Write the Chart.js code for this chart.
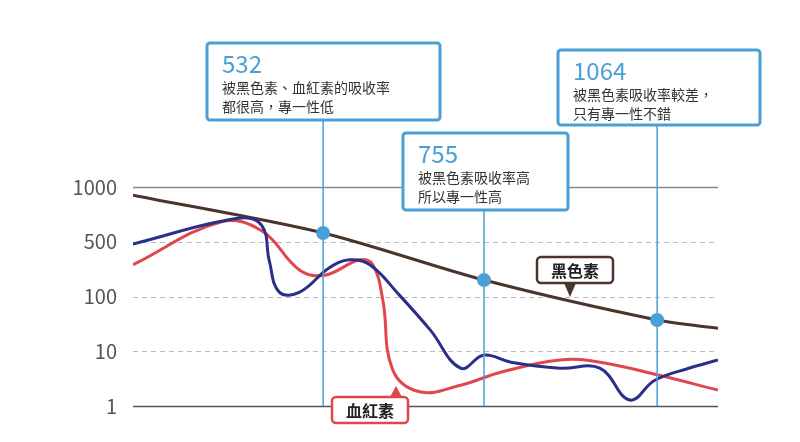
<!DOCTYPE html>
<html><head><meta charset="utf-8">
<script src="https://cdn.jsdelivr.net/npm/chart.js@4"></script>
<style>body{margin:0;background:#fff}#c{width:800px;height:442px}</style>
</head><body><div id="c"><canvas id="cv"></canvas></div>
<script>
// y levels 0..4 shown as these absorption labels
const yTickLabels = ['1', '10', '100', '500', '1000'];
// x is position along the wavelength axis (0..100)
const melaninX = [0, 32.5, 60, 89.6, 100];
const melaninY = [3.85, 3.16, 2.3, 1.57, 1.42];
const blueX = [0, 18, 22, 23.3, 25, 28.5, 33.5, 37, 40.5, 45.5, 50.8, 56, 60, 64.6, 73, 79.8, 84.9, 89.2, 95, 100];
const blueY = [2.96, 3.43, 3.3, 2.65, 2.08, 2.08, 2.52, 2.67, 2.58, 2.03, 1.39, 0.69, 0.93, 0.8, 0.69, 0.69, 0.11, 0.47, 0.69, 0.84];
const redX = [0, 15, 22, 28.5, 32.8, 38.8, 41, 42.7, 44.4, 49, 56, 63, 73, 79.8, 89.6, 100];
const redY = [2.58, 3.36, 3.2, 2.48, 2.39, 2.67, 2.58, 1.94, 0.66, 0.26, 0.38, 0.62, 0.84, 0.8, 0.57, 0.29];
const markerX = [32.5, 60, 89.6];
const markerTitles = ['532', '755', '1064'];
const markerTexts = [['被黑色素、血紅素的吸收率', '都很高，專一性低'], ['被黑色素吸收率高', '所以專一性高'], ['被黑色素吸收率較差，', '只有專一性不錯']];

const pts = (xs, ys) => xs.map((x, i) => ({x, y: ys[i]}));
const FONT = '"Noto Sans CJK TC","Noto Sans",sans-serif';
const BLUE = '#4a9fd6';

function rr(ctx, x, y, w, h, r) {
  ctx.beginPath(); ctx.roundRect(x, y, w, h, r);
}

const overlay = {
  id: 'overlay',
  beforeDatasetsDraw(chart) {
    const ctx = chart.ctx, y = chart.scales.y, a = chart.chartArea;
    ctx.save();
    for (let v = 0; v <= 4; v++) {
      const py = Math.round(y.getPixelForValue(v)) + 0.5;
      ctx.beginPath();
      ctx.setLineDash(v === 0 || v === 4 ? [] : [5, 4]);
      ctx.strokeStyle = v === 0 ? '#555' : (v === 4 ? '#888' : '#bbb');
      ctx.lineWidth = v === 0 || v === 4 ? 1.5 : 1;
      ctx.moveTo(a.left, py); ctx.lineTo(a.right, py); ctx.stroke();
    }
    ctx.restore();
  },
  afterDatasetsDraw(chart) {
    const ctx = chart.ctx, xs = chart.scales.x, ys = chart.scales.y;
    const boxes = [[207, 43, 233, 77], [403, 133, 165, 77], [558, 50, 202, 75]];
    ctx.save();
    markerX.forEach((mx, i) => {
      const px = xs.getPixelForValue(mx);
      const [bx, by, bw, bh] = boxes[i];
      ctx.strokeStyle = BLUE; ctx.lineWidth = 1.5;
      ctx.beginPath(); ctx.moveTo(px, by + bh); ctx.lineTo(px, ys.getPixelForValue(0)); ctx.stroke();
      // dot on melanin line
      const k = melaninX.indexOf(mx);
      ctx.fillStyle = BLUE;
      ctx.beginPath(); ctx.arc(px, ys.getPixelForValue(melaninY[k]), 7, 0, Math.PI * 2); ctx.fill();
      ctx.fillStyle = '#fff'; ctx.lineWidth = 3;
      rr(ctx, bx, by, bw, bh, 3); ctx.fill(); ctx.stroke();
      ctx.fillStyle = BLUE; ctx.font = '24px ' + FONT; ctx.textBaseline = 'alphabetic';
      ctx.fillText(markerTitles[i], bx + 15, by + 30);
      ctx.fillStyle = '#333'; ctx.font = '14px ' + FONT;
      markerTexts[i].forEach((t, j) => ctx.fillText(t, bx + 15, by + 50 + j * 19));
    });
    // series tags
    const tag = (text, bx, by, tipX, tipY, color, up) => {
      ctx.strokeStyle = color; ctx.lineWidth = 2.5; ctx.fillStyle = '#fff';
      rr(ctx, bx, by, 76, 26, 4); ctx.fill(); ctx.stroke();
      ctx.fillStyle = color; ctx.beginPath();
      const base = up ? by : by + 26;
      ctx.moveTo(tipX - 6, base); ctx.lineTo(tipX, tipY); ctx.lineTo(tipX + 6, base); ctx.fill();
      ctx.fillStyle = '#222'; ctx.font = 'bold 16px ' + FONT; ctx.textAlign = 'center'; ctx.textBaseline = 'middle';
      ctx.fillText(text, bx + 38, by + 14);
      ctx.textAlign = 'left';
    };
    tag('黑色素', 537, 257, 570, 297, '#4a342b', false);
    tag('血紅素', 332, 397, 396, 386, '#e0474c', true);
    ctx.restore();
  }
};

new Chart(document.getElementById('cv'), {
  type: 'line',
  data: { datasets: [
    { data: pts(blueX, blueY), borderColor: '#2a2f8a', borderWidth: 3, tension: 0.4, pointRadius: 0 },
    { data: pts(redX, redY), borderColor: '#e0474c', borderWidth: 3, tension: 0.4, pointRadius: 0 },
    { data: pts(melaninX, melaninY), borderColor: '#4a342b', borderWidth: 3, tension: 0.3, pointRadius: 0 }
  ]},
  options: {
    responsive: true, maintainAspectRatio: false, animation: false,
    layout: { padding: { top: 187, right: 82, bottom: 36, left: 0 } },
    plugins: { legend: { display: false }, tooltip: { enabled: false } },
    scales: {
      x: { type: 'linear', min: 0, max: 100, display: false },
      y: { min: 0, max: 4, grid: { display: false }, border: { display: false },
        afterFit(s) { s.width = 133; },
        ticks: { stepSize: 1, padding: 8, color: '#555', font: { size: 20, family: FONT },
          callback: v => yTickLabels[v] } }
    }
  },
  plugins: [overlay]
});
</script></body></html>
